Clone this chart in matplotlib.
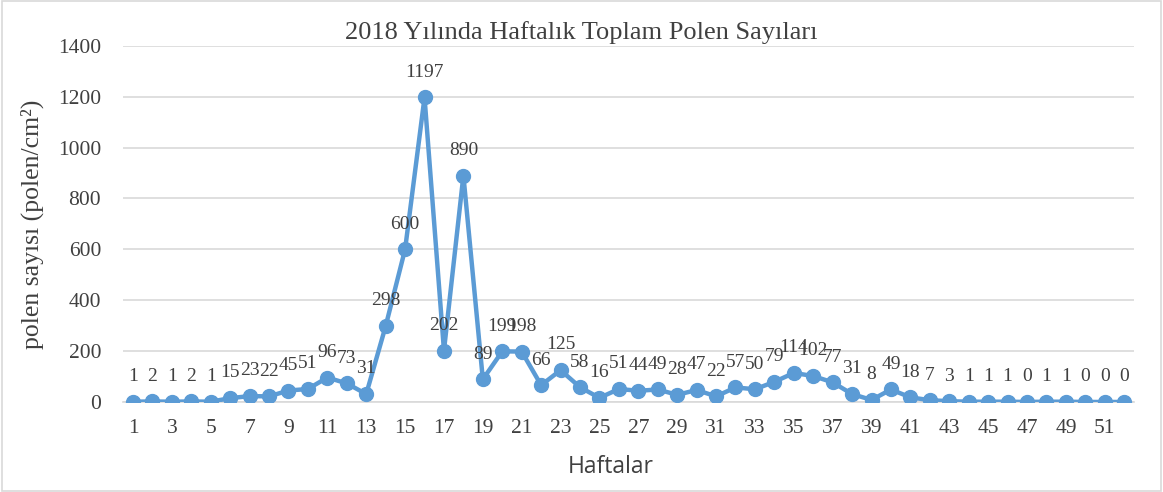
import numpy as np
import matplotlib.pyplot as plt
from matplotlib.patches import Rectangle

# Haftalık toplam polen sayıları (2018)
weeks = np.arange(1, 53)
counts = [1, 2, 1, 2, 1, 15, 23, 22, 45, 51, 96, 73, 31, 298, 600, 1197, 202, 890,
          89, 199, 198, 66, 125, 58, 16, 51, 44, 49, 28, 47, 22, 57, 50, 79, 114, 102,
          77, 31, 8, 49, 18, 7, 3, 1, 1, 1, 0, 1, 1, 0, 0, 0]
yticks = [0, 200, 400, 600, 800, 1000, 1200, 1400]

serif = 'Liberation Serif'
color = '#5B9BD5'
txt = '#404040'

fig = plt.figure(figsize=(11.63, 4.92), dpi=100)
ax = fig.add_axes([0.106, 0.183, 0.869, 0.724])

ax.plot(weeks, counts, color=color, linewidth=3.2, marker='o', markersize=10, zorder=3)

for w, c in zip(weeks, counts):
    ax.annotate(str(c), (w, c), xytext=(0, 12), textcoords='offset points',
                ha='center', va='bottom', fontsize=14, family=serif, color=txt)

ax.set_xlim(0.5, 52.5)
ax.set_ylim(0, 1400)
ax.set_yticks(yticks)
ax.set_xticks(weeks[::2])
ax.tick_params(length=0, labelsize=15.5, colors=txt)
ax.tick_params(axis='x', pad=12)
ax.tick_params(axis='y', pad=16)
for lab in ax.get_xticklabels() + ax.get_yticklabels():
    lab.set_family(serif)
ax.grid(axis='y', color='#D9D9D9', linewidth=1.2)
ax.set_axisbelow(True)
for s in ['top', 'right', 'left']:
    ax.spines[s].set_visible(False)
ax.spines['bottom'].set_color('#D9D9D9')
ax.spines['bottom'].set_linewidth(1.2)

fig.text(0.5, 0.933, '2018 Yılında Haftalık Toplam Polen Sayıları', family=serif,
         fontsize=19, color=txt, ha='center', va='center')
ax.set_ylabel('polen sayısı (polen/cm²)', family=serif, fontsize=18.5, color=txt,
              labelpad=10)
fig.text(0.525, 0.05, 'Haftalar', family='Open Sans', fontsize=16.5, color=txt,
         ha='center', va='center')

fig.patches.append(Rectangle((0.002, 0.003), 0.996, 0.994, transform=fig.transFigure,
                             fill=False, edgecolor='#D9D9D9', linewidth=1.2))

fig.savefig('out.png', dpi=100)
